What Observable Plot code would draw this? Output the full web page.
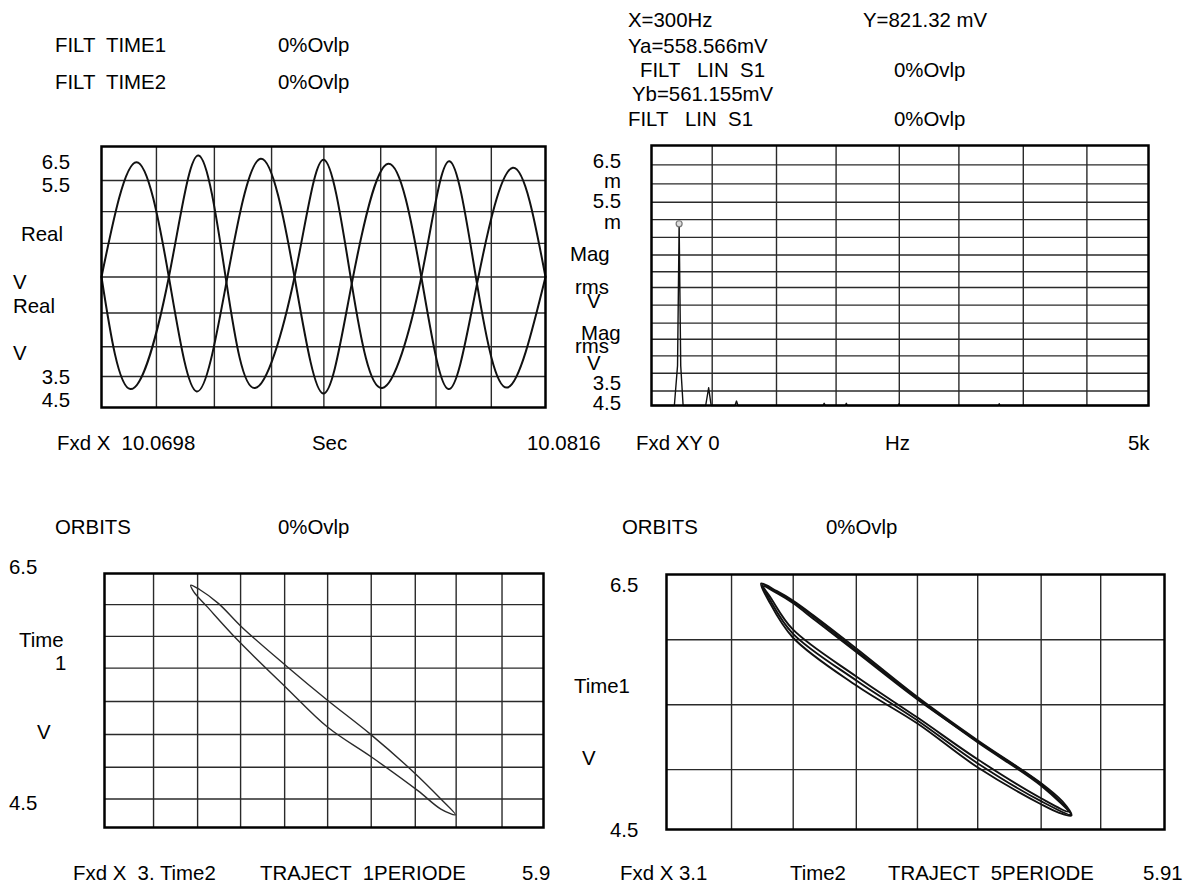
<!DOCTYPE html>
<html><head><meta charset="utf-8">
<script src="https://cdn.jsdelivr.net/npm/d3@7"></script>
<script src="https://cdn.jsdelivr.net/npm/@observablehq/plot@0.6"></script>
<style>
body{margin:0;background:#fff;}
#root{position:relative;width:1191px;height:884px;overflow:hidden;background:#fff;}
</style></head><body><div id="root"></div>
<script>
// ---------- Panel 1: time signals (Real V vs Sec) ----------
const timeRange = [10.0698, 10.0816];
const timeA = [10.06980, 10.07073, 10.07159, 10.07233, 10.07312, 10.07403, 10.07493, 10.07569, 10.07645, 10.07742, 10.07830, 10.07902, 10.07978, 10.08073, 10.08160];
const realA = [0, 0.880, 0, -0.877, -0.041, 0.906, 0, -0.893, -0.053, 0.867, 0, -0.859, -0.053, 0.837, 0];
const timeB = [10.06980, 10.07057, 10.07159, 10.07238, 10.07312, 10.07388, 10.07493, 10.07571, 10.07645, 10.07726, 10.07830, 10.07905, 10.07978, 10.08059, 10.08160];
const realB = [0, -0.859, 0, 0.931, -0.041, -0.851, 0, 0.898, -0.053, -0.851, 0, 0.887, -0.053, -0.847, 0];
const p1GridT = [10.07126, 10.07280, 10.07432, 10.07571, 10.07722, 10.07869, 10.08016];
const p1GridV = [0.739, 0.501, 0.258, 0, -0.276, -0.534, -0.762];

// ---------- Panel 2: spectrum (Mag rms V vs Hz) ----------
const freqRange = [0, 5000];
const magRange = [0, 1175];
const specFreq = [0, 230, 262, 278, 294, 318, 545, 575, 600, 840, 855, 870, 1725, 1737, 1750, 1950, 1960, 1970, 2480, 2490, 2500, 3490, 3498, 3506, 5000];
const specMag  = [0, 0, 180, 821.32, 180, 0, 0, 80, 0, 0, 20, 0, 0, 10, 0, 0, 10, 0, 0, 8, 0, 0, 8, 0, 0];
const cursorFreq = [278];
const cursorMag = [821.32];
const p2GridF = [610.7, 1257.5, 1857.1, 2492.9, 3092.6, 3740.4, 4380.3];
const p2GridM = [1087.6, 1001.6, 918.3, 839.9, 759.8, 680.1, 604.5, 533.4, 453.7, 372.2, 299.7, 224.1, 145.8, 65.7];

// ---------- Panel 3: orbit, 1 period (Time1 vs Time2) ----------
const orbit1X = [3.570, 3.628, 3.754, 3.906, 4.197, 4.475, 4.754, 5.032, 5.222, 5.318, 5.222, 5.070, 4.766, 4.475, 4.197, 3.881, 3.679, 3.590];
const orbit1Y = [6.408, 6.374, 6.263, 6.079, 5.776, 5.500, 5.237, 4.947, 4.724, 4.600, 4.645, 4.790, 5.053, 5.289, 5.605, 5.974, 6.237, 6.355];
const p3GridX = [3.324, 3.615, 3.899, 4.190, 4.474, 4.762, 5.053, 5.323, 5.626];
const p3GridY = [6.255, 6.005, 5.755, 5.492, 5.232, 4.974, 4.724];

// ---------- Panel 4: orbit, 5 periods ----------
const loop1X = [3.634, 3.721, 3.813, 3.941, 4.171, 4.516, 4.857, 5.216, 5.334, 5.385, 5.312, 5.216, 4.857, 4.516, 4.171, 3.813, 3.676];
const loop1Y = [6.429, 6.371, 6.296, 6.167, 5.920, 5.539, 5.198, 4.861, 4.720, 4.610, 4.633, 4.696, 4.986, 5.331, 5.629, 6.006, 6.296];
const loop2X = [3.647, 3.726, 3.813, 3.941, 4.171, 4.516, 4.857, 5.216, 5.368, 5.216, 4.857, 4.516, 4.171, 3.813, 3.687];
const loop2Y = [6.406, 6.351, 6.276, 6.139, 5.892, 5.520, 5.190, 4.853, 4.641, 4.743, 5.049, 5.378, 5.700, 6.069, 6.320];
const loop3X = [3.642, 3.721, 3.813, 3.941, 4.171, 4.516, 4.857, 5.216, 5.380, 5.216, 4.857, 4.516, 4.171, 3.813, 3.681];
const loop3Y = [6.418, 6.363, 6.288, 6.155, 5.904, 5.527, 5.182, 4.841, 4.618, 4.720, 5.018, 5.355, 5.669, 6.037, 6.308];
const p4GridX = [3.467, 3.815, 4.171, 4.516, 4.856, 5.214, 5.550];
const p4GridY = [5.988, 5.479, 4.970];

// ---------- Texts ----------
const headerLeft = ["FILT  TIME1", "0%Ovlp", "FILT  TIME2", "0%Ovlp"];
const headerRight = ["X=300Hz", "Y=821.32 mV", "Ya=558.566mV", "FILT   LIN  S1", "0%Ovlp", "Yb=561.155mV", "FILT   LIN  S1", "0%Ovlp"];
const p1Labels = ["6.5", "5.5", "Real", "V", "Real", "V", "3.5", "4.5", "Fxd X  10.0698", "Sec", "10.0816"];
const p2Labels = ["6.5", "m", "5.5", "m", "Mag", "rms", "V", "Mag", "rms", "V", "3.5", "4.5", "Fxd XY 0", "Hz", "5k"];
const p3Labels = ["ORBITS", "0%Ovlp", "6.5", "Time", "1", "V", "4.5", "Fxd X  3. Time2", "TRAJECT  1PERIODE", "5.9"];
const p4Labels = ["ORBITS", "0%Ovlp", "6.5", "Time1", "V", "4.5", "Fxd X 3.1", "Time2", "TRAJECT  5PERIODE", "5.91"];

// ---------- layout (positions only) ----------
const pos = {
  headerLeft: [[55,52],[278,52],[55,89],[278,89]],
  headerRight: [[628,27],[863,27],[628,53],[640,77],[894,77],[632,101],[628,126],[894,126]],
  p1: [[70,169,"end"],[70,192,"end"],[21,241],[13,289],[13,313],[13,360],[70,384,"end"],[70,407,"end"],[57,450],[312,450],[527,450]],
  p2: [[621,168,"end"],[621,188,"end"],[621,208,"end"],[621,229,"end"],[570,261],[575,294],[587,308],[581,340],[575,353],[587,370],[621,390,"end"],[621,410,"end"],[636,450],[885,450],[1128,450]],
  p3: [[55,534],[278,534],[9,574],[19,647],[55,670],[37,739],[9,810],[73,880],[260,880],[522,880]],
  p4: [[622,534],[826,534],[610,592],[574,693],[582,765],[610,837],[620,880],[790,880],[888,880],[1143,880]]
};

const root = document.getElementById("root");
const zipXY = (xs, ys, extra = {}) => xs.map((x, i) => ({x, y: ys[i], ...extra}));
const GRID = {stroke: "#2a2a2a", strokeWidth: 1.4};

function panel({left, top, w, h, xd, yd, marks}) {
  const pad = 10;
  const svg = Plot.plot({
    width: w + 2 * pad, height: h + 2 * pad, margin: pad,
    x: {domain: xd, axis: null}, y: {domain: yd, axis: null},
    style: {background: "transparent", overflow: "visible"},
    marks
  });
  svg.style.position = "absolute";
  svg.style.left = (left - pad) + "px";
  svg.style.top = (top - pad) + "px";
  root.append(svg);
}

// Panel 1
panel({left: 101, top: 146, w: 444, h: 261, xd: timeRange, yd: [-1, 1], marks: [
  Plot.ruleX(p1GridT, {...GRID}),
  Plot.ruleY(p1GridV, {...GRID}),
  Plot.line(zipXY(timeA, realA), {x: "x", y: "y", curve: "natural", stroke: "#111", strokeWidth: 2}),
  Plot.line(zipXY(timeB, realB), {x: "x", y: "y", curve: "natural", stroke: "#111", strokeWidth: 2}),
  Plot.frame({stroke: "#000", strokeWidth: 2.5})
]});

// Panel 2
panel({left: 651, top: 145, w: 497, h: 260, xd: freqRange, yd: magRange, marks: [
  Plot.ruleX(p2GridF, {...GRID}),
  Plot.ruleY(p2GridM, {...GRID}),
  Plot.line(zipXY(specFreq, specMag), {x: "x", y: "y", stroke: "#111", strokeWidth: 1.4}),
  Plot.dot(zipXY(cursorFreq, cursorMag), {x: "x", y: "y", r: 3, stroke: "#777", strokeWidth: 1.2, fill: "#ddd"}),
  Plot.frame({stroke: "#000", strokeWidth: 2.5})
]});

// Panel 3
panel({left: 104, top: 573, w: 439, h: 254, xd: [3, 5.9], yd: [4.5, 6.5], marks: [
  Plot.ruleX(p3GridX, {...GRID}),
  Plot.ruleY(p3GridY, {...GRID}),
  Plot.line(zipXY(orbit1X, orbit1Y), {x: "x", y: "y", curve: "catmull-rom-closed", stroke: "#2a2a2a", strokeWidth: 1.4}),
  Plot.frame({stroke: "#000", strokeWidth: 2.5})
]});

// Panel 4
const loops = [
  ...zipXY(loop1X, loop1Y, {loop: 1}),
  ...zipXY(loop2X, loop2Y, {loop: 2}),
  ...zipXY(loop3X, loop3Y, {loop: 3})
];
panel({left: 666, top: 574, w: 498, h: 255, xd: [3.1, 5.91], yd: [4.5, 6.5], marks: [
  Plot.ruleX(p4GridX, {...GRID}),
  Plot.ruleY(p4GridY, {...GRID}),
  Plot.line(loops, {x: "x", y: "y", z: "loop", curve: "catmull-rom-closed", stroke: "#111", strokeWidth: 1.9}),
  Plot.frame({stroke: "#000", strokeWidth: 2.5})
]});

// Text overlay
const items = [];
function addTexts(texts, p) { texts.forEach((t, i) => items.push({t, x: p[i][0], y: p[i][1], a: p[i][2] || "start"})); }
addTexts(headerLeft, pos.headerLeft);
addTexts(headerRight, pos.headerRight);
addTexts(p1Labels, pos.p1);
addTexts(p2Labels, pos.p2);
addTexts(p3Labels, pos.p3);
addTexts(p4Labels, pos.p4);

const overlay = d3.create("svg")
  .attr("width", 1191).attr("height", 884)
  .style("position", "absolute").style("left", "0px").style("top", "0px")
  .style("pointer-events", "none");
overlay.selectAll("text").data(items).join("text")
  .attr("x", d => d.x).attr("y", d => d.y)
  .attr("text-anchor", d => d.a)
  .attr("xml:space", "preserve")
  .style("white-space", "pre")
  .attr("font-family", "'Liberation Sans', Arial, sans-serif")
  .attr("font-size", 20.4)
  .attr("fill", "#000")
  .text(d => d.t);
root.append(overlay.node());
</script>
</body></html>
